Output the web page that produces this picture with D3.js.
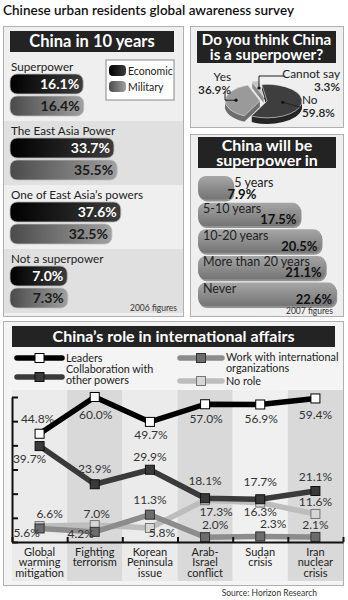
<!DOCTYPE html>
<html>
<head>
<meta charset="utf-8">
<script src="https://cdn.jsdelivr.net/npm/d3@7"></script>
<style>
  body { margin: 0; background: #fff; }
  text { font-family: Lato, "Open Sans", sans-serif; }
</style>
</head>
<body>
<div id="wrapper"></div>
<script>
// ---- data ----
const tenYearCats = ["Superpower", "The East Asia Power", "One of East Asia\u2019s powers", "Not a superpower"]
const economic = [16.1, 33.7, 37.6, 7.0]
const military = [16.4, 35.5, 32.5, 7.3]

const pieCats = ["No", "Yes", "Cannot say"]
const pieValues = [59.8, 36.9, 3.3]

const whenCats = ["5 years", "5-10 years", "10-20 years", "More than 20 years", "Never"]
const whenValues = [7.9, 17.5, 20.5, 21.1, 22.6]

const roleCats = [
  ["Global", "warming", "mitigation"],
  ["Fighting", "terrorism"],
  ["Korean", "Peninsula", "issue"],
  ["Arab-", "Israel", "conflict"],
  ["Sudan", "crisis"],
  ["Iran", "nuclear", "crisis"]
]
const leaders = [44.8, 60.0, 49.7, 57.0, 56.9, 59.4]
const collaboration = [39.7, 23.9, 29.9, 18.1, 17.7, 21.1]
const workIntl = [5.6, 4.2, 11.3, 2.0, 2.3, 2.1]
const noRole = [6.6, 7.0, 5.8, 17.3, 16.3, 11.6]

// label nudges [dx, dy] for the line chart values
const labelOffsets = {
  leaders: [[-2, -11], [1, 22], [1, 17], [1, 19], [1, 19], [0, 21]],
  collaboration: [[-10, 17], [0, -11], [0, -9], [0, -13], [0, -13], [0, -10]],
  workIntl: [[-13, 9], [-14, 6], [0, -11], [10, -8], [13, -8], [0, -8]],
  noRole: [[10, -8], [2, -7], [12, 9], [11, 16], [0, 13], [0, -8]]
}

const svg = d3.select("#wrapper").append("svg")
  .attr("width", 348)
  .attr("height", 600)

svg.append("rect").attr("width", 348).attr("height", 600).attr("fill", "#fff")

const defs = svg.append("defs")
const grad = (id, c1, c2, vertical) => {
  const g = defs.append("linearGradient").attr("id", id)
    .attr("x1", 0).attr("y1", 0)
    .attr("x2", vertical ? 0 : 1).attr("y2", vertical ? 1 : 0)
  g.append("stop").attr("offset", "0%").attr("stop-color", c1)
  g.append("stop").attr("offset", "100%").attr("stop-color", c2)
}
grad("gEco", "#000", "#3c3c3c")
grad("gMil", "#4a4a4a", "#a0a0a0")
grad("gWhen", "#a6a6a6", "#747474", true)

svg.append("text")
  .attr("x", 3).attr("y", 15)
  .attr("font-size", 13.5).attr("font-weight", 600).attr("fill", "#111")
  .text("Chinese urban residents global awareness survey")

const titleBar = (x, y, w, h, lines, size, lh) => {
  svg.append("rect").attr("x", x).attr("y", y).attr("width", w).attr("height", h).attr("fill", "#232323")
  const y0 = y + h / 2 - (lines.length - 1) * lh / 2 + size * 0.36
  lines.forEach((t, i) => svg.append("text")
    .attr("x", x + w / 2).attr("y", y0 + i * lh)
    .attr("text-anchor", "middle").attr("fill", "#fff")
    .attr("font-size", size).attr("font-weight", 700)
    .text(t))
}

// ---- panel 1: China in 10 years ----
svg.append("rect").attr("x", 3.5).attr("y", 26.5).attr("width", 180).attr("height", 290)
  .attr("fill", "#efefef").attr("stroke", "#b0b0b0")

const groupScale = d3.scaleBand().domain(tenYearCats).range([57, 313])
const barW = d3.scaleLinear().domain([0, 40]).range([45, 115])

svg.selectAll(".band1").data(tenYearCats.filter((d, i) => i % 2 === 1)).enter()
  .append("rect")
  .attr("x", 4).attr("width", 179)
  .attr("y", d => groupScale(d)).attr("height", groupScale.bandwidth())
  .attr("fill", "#e0e0e0")

titleBar(10, 31, 164, 21, ["China in 10 years"], 16.5, 0)

const groups = svg.selectAll(".grp").data(tenYearCats).enter().append("g")
  .attr("transform", d => `translate(10,${groupScale(d)})`)

groups.append("text")
  .attr("x", 1).attr("y", 14)
  .attr("font-size", 11.7).attr("fill", "#222")
  .text(d => d)

const drawPair = (vals, dy, fill, textFill) => {
  groups.append("rect")
    .attr("x", 0).attr("y", dy)
    .attr("width", (d, i) => barW(vals[i])).attr("height", 20)
    .attr("rx", 7).attr("fill", fill)
    .attr("stroke", "#bbb").attr("stroke-width", 0.8)
  groups.append("text")
    .attr("x", (d, i) => barW(vals[i]) - 4).attr("y", dy + 15)
    .attr("text-anchor", "end").attr("font-size", 14).attr("font-weight", 700)
    .attr("fill", textFill)
    .text((d, i) => vals[i].toFixed(1) + "%")
}
drawPair(economic, 17, "url(#gEco)", "#fff")
drawPair(military, 39, "url(#gMil)", "#1a1a1a")

const legend1 = svg.append("g").attr("transform", "translate(106,60)")
legend1.append("rect").attr("width", 68).attr("height", 40).attr("fill", "#fff").attr("stroke", "#888")
;[["Economic", "url(#gEco)"], ["Military", "url(#gMil)"]].forEach(([t, f], i) => {
  legend1.append("rect").attr("x", 3).attr("y", 5 + i * 16).attr("width", 17).attr("height", 11)
    .attr("rx", 4).attr("fill", f)
  legend1.append("text").attr("x", 22).attr("y", 14.5 + i * 16)
    .attr("font-size", 10.5).attr("fill", "#222").text(t)
})

svg.append("text").attr("x", 177).attr("y", 311).attr("text-anchor", "end")
  .attr("font-size", 8.5).attr("fill", "#333").text("2006 figures")

// ---- panel 2: pie ----
svg.append("rect").attr("x", 190.5).attr("y", 26.5).attr("width", 153).attr("height", 101)
  .attr("fill", "#efefef").attr("stroke", "#b0b0b0")
titleBar(197, 31, 139, 32, ["Do you think China", "is a superpower?"], 15.2, 14.6)

const cx = 266, cy = 101, squash = 0.48, depth = 6
const pie = d3.pie().sort(null).startAngle(-0.15).endAngle(2 * Math.PI - 0.15)
const arcs = pie(pieValues)
const arc = d3.arc().innerRadius(0).outerRadius(35)
const explode = [1, 6, 8]
const topCol = ["#3e3e3e", "#9a9a9a", "#c4c4c4"]
const sideCol = ["#262626", "#6e6e6e", "#8e8e8e"]
const offs = arcs.map((a, i) => {
  const m = (a.startAngle + a.endAngle) / 2
  return [Math.sin(m) * explode[i], -Math.cos(m) * explode[i]]
})
for (let k = depth; k >= 0; k--) {
  svg.append("g")
    .attr("transform", `translate(${cx},${cy + k}) scale(1,${squash})`)
    .selectAll("path").data(arcs).enter().append("path")
    .attr("transform", (d, i) => `translate(${offs[i][0]},${offs[i][1]})`)
    .attr("d", arc)
    .attr("fill", (d, i) => k === 0 ? topCol[i] : sideCol[i])
    .attr("stroke", k === 0 ? "#eee" : "none").attr("stroke-width", 0.8)
}
const pt = (i, r) => {
  const m = (arcs[i].startAngle + arcs[i].endAngle) / 2
  return [cx + Math.sin(m) * r + offs[i][0], cy + (-Math.cos(m) * r + offs[i][1]) * squash]
}
const leader = (pts) => svg.append("path").attr("d", d3.line()(pts))
  .attr("fill", "none").attr("stroke", "#222").attr("stroke-width", 1)
const dot = (p) => svg.append("circle").attr("cx", p[0]).attr("cy", p[1]).attr("r", 1.6).attr("fill", "#111")

const pYes = pt(1, 24)
leader([pYes, [pYes[0] - 11, pYes[1]], [pYes[0] - 11, pYes[1] - 9]]); dot(pYes)
const pCs = pt(2, 20)
leader([pCs, [pCs[0], cy - 25], [cx + 18, cy - 25]]); dot(pCs)
const pNo = pt(0, 16)
leader([pNo, [pNo[0] + 18, pNo[1] + 5]]); dot(pNo)

const pieLabel = (x, y, anchor, lines) => lines.forEach((t, i) =>
  svg.append("text").attr("x", x).attr("y", y + i * 12.5).attr("text-anchor", anchor)
    .attr("font-size", 11.8).attr("fill", "#222").attr("font-weight", i ? 600 : 400).text(t))
pieLabel(cx - 35, cy - 20, "end", [pieCats[1], pieValues[1].toFixed(1) + "%"])
pieLabel(340, cy - 23, "end", [pieCats[2], pieValues[2].toFixed(1) + "%"])
pieLabel(cx + 36, cy + 3, "start", [pieCats[0], pieValues[0].toFixed(1) + "%"])

// ---- panel 3: China will be superpower in ----
svg.append("rect").attr("x", 190.5).attr("y", 134.5).attr("width", 153).attr("height", 182)
  .attr("fill", "#efefef").attr("stroke", "#b0b0b0")
titleBar(198, 137, 138, 31, ["China will be", "superpower in"], 16, 14.8)

const whenY = d3.scaleBand().domain(whenCats).range([176, 306]).paddingInner(0.12)
const whenW = d3.scaleLinear().domain([5, 25]).range([15, 155])

const whenG = svg.selectAll(".when").data(whenCats).enter().append("g")
  .attr("transform", d => `translate(198,${whenY(d)})`)
whenG.append("rect")
  .attr("x", 1).attr("y", 2)
  .attr("width", (d, i) => whenW(whenValues[i])).attr("height", whenY.bandwidth())
  .attr("rx", 8).attr("fill", "#555").attr("opacity", 0.6)
whenG.append("rect")
  .attr("width", (d, i) => whenW(whenValues[i])).attr("height", whenY.bandwidth())
  .attr("rx", 8).attr("fill", "url(#gWhen)")
whenG.append("text")
  .attr("x", (d, i) => whenW(whenValues[i]) < 60 ? whenW(whenValues[i]) + 1 : 5)
  .attr("y", 10.5)
  .attr("font-size", 12.5).attr("fill", "#222")
  .text(d => d)
whenG.append("text")
  .attr("x", (d, i) => whenW(whenValues[i]) < 60 ? whenW(whenValues[i]) + 23 : whenW(whenValues[i]) - 4)
  .attr("y", (d, i) => whenW(whenValues[i]) < 60 ? 22.5 : 21.5)
  .attr("text-anchor", "end").attr("font-size", 13).attr("font-weight", 700).attr("fill", "#111")
  .text((d, i) => whenValues[i].toFixed(1) + "%")

svg.append("text").attr("x", 333).attr("y", 314).attr("text-anchor", "end")
  .attr("font-size", 8.5).attr("fill", "#333").text("2007 figures")

// ---- panel 4: China's role in international affairs ----
svg.append("rect").attr("x", 3.5).attr("y", 321.5).attr("width", 340).attr("height", 264)
  .attr("fill", "#f4f4f4").attr("stroke", "#b0b0b0")
titleBar(12, 326, 323, 21, ["China\u2019s role in international affairs"], 16, 0)

const x = d3.scaleBand().domain(d3.range(roleCats.length)).range([12, 343])
const y = d3.scaleLinear().domain([0, 60]).range([542, 397])

svg.selectAll(".col").data(roleCats).enter().append("rect")
  .attr("x", (d, i) => x(i)).attr("width", x.bandwidth())
  .attr("y", 390).attr("height", 191)
  .attr("fill", (d, i) => i % 2 ? "#d9d9d9" : (i === 4 ? "#f0f0f0" : "#ebebeb"))

const series = [
  { key: "noRole", name: ["No role"], vals: noRole, line: "#bdbdbd", fill: "#d6d6d6", stroke: "#777" },
  { key: "workIntl", name: ["Work with international", "organizations"], vals: workIntl, line: "#8c8c8c", fill: "#6c6c6c", stroke: "#333" },
  { key: "collaboration", name: ["Collaboration with", "other powers"], vals: collaboration, line: "#3a3a3a", fill: "#3a3a3a", stroke: "#111" },
  { key: "leaders", name: ["Leaders"], vals: leaders, line: "#000", fill: "#fff", stroke: "#000" }
]

const cxr = i => x(i) + x.bandwidth() / 2
const lineGen = d3.line().x((d, i) => cxr(i)).y(d => y(d))

series.forEach(s => {
  svg.append("path").attr("d", lineGen(s.vals))
    .attr("fill", "none").attr("stroke", s.line).attr("stroke-width", 5.5)
    .attr("stroke-linejoin", "round")
  svg.selectAll(".sq-" + s.key).data(s.vals).enter().append("rect")
    .attr("x", (d, i) => cxr(i) - 4.5).attr("y", d => y(d) - 4.5)
    .attr("width", 9).attr("height", 9)
    .attr("fill", s.fill).attr("stroke", s.stroke).attr("stroke-width", 1)
})

series.forEach(s => {
  svg.selectAll(".lb-" + s.key).data(s.vals).enter().append("text")
    .attr("x", (d, i) => cxr(i) + labelOffsets[s.key][i][0])
    .attr("y", (d, i) => y(d) + labelOffsets[s.key][i][1])
    .attr("text-anchor", "middle").attr("font-size", 12).attr("fill", "#333")
    .text(d => d.toFixed(1) + "%")
})

// axes
const yAxis = svg.append("g").attr("transform", "translate(12,0)")
  .call(d3.axisLeft(y).ticks(6).tickSize(-6).tickSizeOuter(0).tickFormat(""))
yAxis.selectAll("path, line").attr("stroke", "#111").attr("stroke-width", 2)

const colEdge = d3.scaleLinear().domain([0, roleCats.length]).range([12, 343])
const xAxis = svg.append("g").attr("transform", "translate(0,542)")
  .call(d3.axisBottom(colEdge).ticks(6).tickSize(-5).tickSizeOuter(0).tickFormat(""))
xAxis.selectAll("path, line").attr("stroke", "#111").attr("stroke-width", 2)

svg.selectAll(".cat").data(roleCats).enter().append("text")
  .attr("x", (d, i) => cxr(i)).attr("y", 556)
  .attr("text-anchor", "middle").attr("font-size", 11).attr("fill", "#222")
  .selectAll("tspan").data(d => d).enter().append("tspan")
  .attr("x", function () { return this.parentNode.getAttribute("x") })
  .attr("dy", (d, i) => i ? 10.3 : 0)
  .text(d => d)

// legend
const legPos = { noRole: [180, 381], workIntl: [180, 358], collaboration: [17, 377], leaders: [17, 358] }
series.forEach(s => {
  const [lx, ly] = legPos[s.key]
  const w = s.key === "leaders" || s.key === "collaboration" ? 45 : 42
  svg.append("line").attr("x1", lx).attr("x2", lx + w).attr("y1", ly).attr("y2", ly)
    .attr("stroke", s.line).attr("stroke-width", 5.5).attr("stroke-linecap", "round")
  svg.append("rect").attr("x", lx + w / 2 - 4.5).attr("y", ly - 4.5).attr("width", 9).attr("height", 9)
    .attr("fill", s.fill).attr("stroke", s.stroke)
  const ty = s.name.length > 1 ? (s.key === "collaboration" ? ly - 4 : ly + 3) : ly + 4
  s.name.forEach((t, i) => svg.append("text")
    .attr("x", lx + w + 4).attr("y", ty + i * 11)
    .attr("font-size", 10.8).attr("fill", "#222").text(t))
})

svg.append("text").attr("x", 317).attr("y", 596).attr("text-anchor", "end")
  .attr("font-size", 8.5).attr("fill", "#333").text("Source: Horizon Research")
</script>
</body>
</html>
